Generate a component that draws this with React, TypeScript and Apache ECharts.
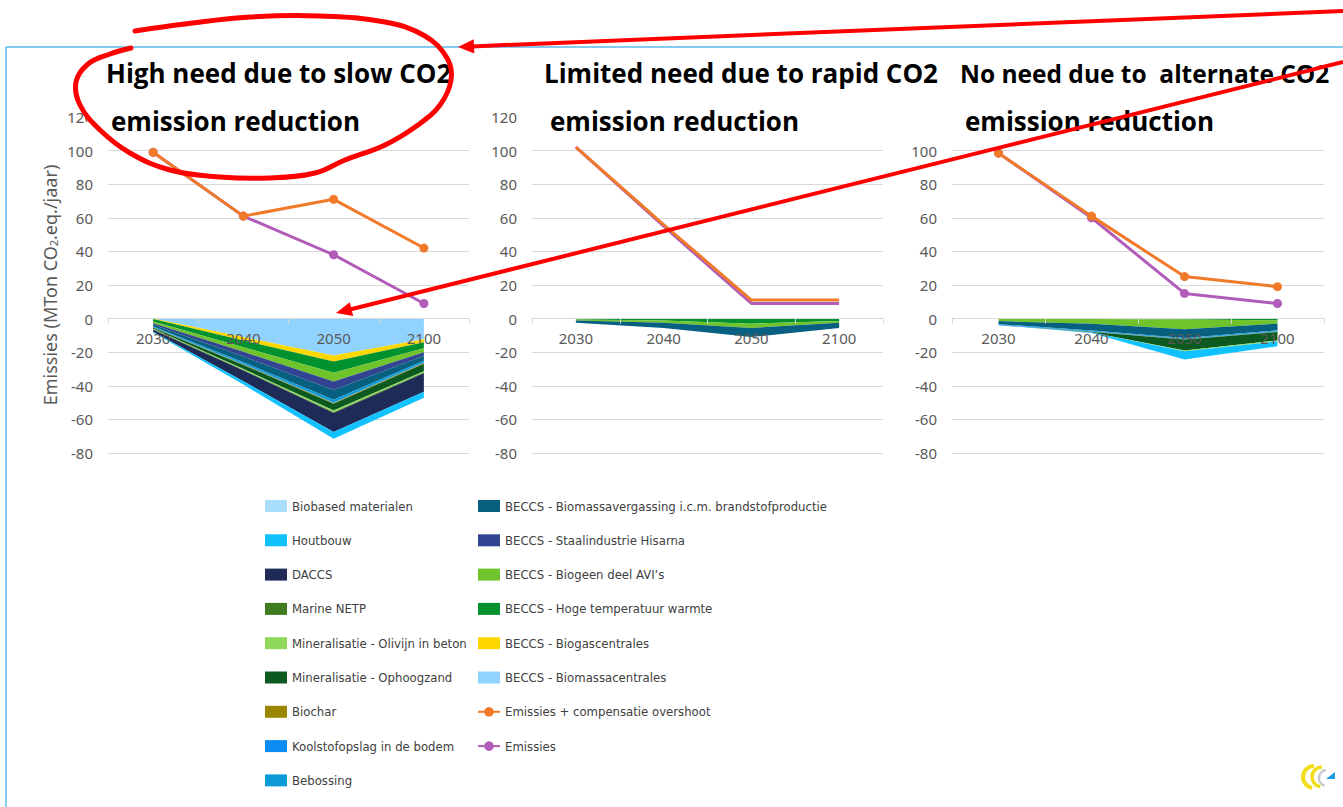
import { useEffect, useRef } from "react";
import * as echarts from "echarts";

// ---------- data ----------
const years = ["2030", "2040", "2050", "2100"];

const panelTitlesLine1 = ["High need due to slow CO2", "Limited need due to rapid CO2", "No need due to  alternate CO2"];
const panelTitlesLine2 = ["emission reduction", "emission reduction", "emission reduction"];

// area series in stacking order (nearest to zero first)
const areaNames = [
  "BECCS - Biomassacentrales",
  "BECCS - Biogascentrales",
  "BECCS - Hoge temperatuur warmte",
  "BECCS - Biogeen deel AVI’s",
  "BECCS - Staalindustrie Hisarna",
  "BECCS - Biomassavergassing i.c.m. brandstofproductie",
  "Bebossing",
  "Koolstofopslag in de bodem",
  "Biochar",
  "Mineralisatie - Ophoogzand",
  "Mineralisatie - Olivijn in beton",
  "Marine NETP",
  "DACCS",
  "Houtbouw",
  "Biobased materialen",
];
const areaColors = [
  "#8fd3fe", "#ffd700", "#00922e", "#6fc42c", "#334592", "#07607f", "#0d9bd7", "#0a8cf2",
  "#9a8500", "#0c5a1f", "#8fd95c", "#3f7b1f", "#1f2b57", "#12c2ff", "#a8ddfb",
];

// High need due to slow CO2 emission reduction
const highNeedAreas = [
  [0, -11, -22, -12.3],
  [-0.2, -2, -3.6, -1.8],
  [-1.5, -4, -6.7, -3.6],
  [-1, -2.8, -5.2, -2.4],
  [-1, -2.8, -5, -2],
  [-1, -3.4, -5.8, -3],
  [-0.4, -1, -1.6, -1],
  [-0.2, -0.3, -0.4, -0.4],
  [-0.2, -0.3, -0.4, -0.4],
  [-0.6, -2.4, -4, -4.4],
  [-0.3, -0.6, -1, -0.8],
  [-0.2, -0.3, -0.5, -0.4],
  [-1.2, -6.4, -11.3, -11],
  [-0.4, -2, -4, -3.6],
  [0, 0, 0, 0],
];
const highNeedOvershoot = [99, 61, 71, 42];
const highNeedEmissions = [99, 61, 38, 9];

// Limited need due to rapid CO2 emission reduction
const limitedNeedAreas = [
  [0, 0, 0, 0],
  [0, 0, 0, 0],
  [-0.6, -1.2, -3, -1.4],
  [-0.6, -1.2, -2.6, -1],
  [0, 0, 0, 0],
  [-1.2, -3.2, -5.4, -3.2],
  [0, 0, 0, 0],
  [0, 0, 0, 0],
  [0, 0, 0, 0],
  [0, 0, 0, 0],
  [0, 0, 0, 0],
  [0, 0, 0, 0],
  [0, 0, 0, 0],
  [0, 0, 0, 0],
  [0, 0, 0, 0],
];
const limitedNeedOvershoot = [102, 56, 11, 11];
const limitedNeedEmissions = [102, 55, 9, 9];

// No need due to alternate CO2 emission reduction
const noNeedAreas = [
  [0, 0, 0, 0],
  [0, 0, 0, 0],
  [-0.3, -0.3, -0.5, -1],
  [-1.2, -2.8, -5.8, -2],
  [0, 0, 0, 0],
  [-1.8, -4, -5.2, -4],
  [-0.4, -0.5, -0.5, -0.5],
  [-0.2, -0.3, -0.3, -0.3],
  [0, -0.1, -0.2, -0.2],
  [0, -0.2, -6.5, -5],
  [0, -0.1, -0.5, -0.5],
  [0, 0, 0, 0],
  [0, 0, 0, 0],
  [0, -0.2, -4.8, -3],
  [0, 0, 0, 0],
];
const noNeedOvershoot = [98.5, 61, 25, 19];
const noNeedEmissions = [98.5, 60, 15, 9];

const overshootName = "Emissies + compensatie overshoot";
const emissionsName = "Emissies";
const overshootColor = "#f07a2a";
const emissionsColor = "#b05cb8";

const legendLeft = [
  "Biobased materialen",
  "Houtbouw",
  "DACCS",
  "Marine NETP",
  "Mineralisatie - Olivijn in beton",
  "Mineralisatie - Ophoogzand",
  "Biochar",
  "Koolstofopslag in de bodem",
  "Bebossing",
];
const legendRight = [
  "BECCS - Biomassavergassing i.c.m. brandstofproductie",
  "BECCS - Staalindustrie Hisarna",
  "BECCS - Biogeen deel AVI’s",
  "BECCS - Hoge temperatuur warmte",
  "BECCS - Biogascentrales",
  "BECCS - Biomassacentrales",
  overshootName,
  emissionsName,
];

const yMin = -80;
const yMax = 120;
const yInterval = 20;

// ---------- layout ----------
const gridTop = 117;
const gridHeight = 336;
const grids = [
  { left: 108, width: 361 },
  { left: 532, width: 351 },
  { left: 952, width: 372 },
];
const titleX1 = [106, 544, 960];
const titleX2 = [111, 550, 965];
const titleSize1 = [26, 26, 24.5];

export default function App() {
  const ref = useRef<HTMLDivElement>(null);

  useEffect(() => {
    if (!ref.current) return;
    const chart = echarts.init(ref.current, undefined, { renderer: "svg" });

    const panelAreas = [highNeedAreas, limitedNeedAreas, noNeedAreas];
    const panelOvershoot = [highNeedOvershoot, limitedNeedOvershoot, noNeedOvershoot];
    const panelEmissions = [highNeedEmissions, limitedNeedEmissions, noNeedEmissions];

    const axisFont = "'Noto Sans', sans-serif";
    const gray = "#595959";
    const gridLine = "#d9d9d9";
    // distance of the zero line above the bottom of the plot
    const zeroOffset = (gridHeight * (0 - yMin)) / (yMax - yMin);

    const series: any[] = [];
    for (let p = 0; p < 3; p++) {
      areaNames.forEach((name, i) => {
        series.push({
          type: "line",
          name,
          xAxisIndex: p,
          yAxisIndex: p,
          stack: "stack" + p,
          data: panelAreas[p][i],
          symbol: "none",
          showSymbol: false,
          lineStyle: { width: 0 },
          areaStyle: { color: areaColors[i], opacity: 1 },
          itemStyle: { color: areaColors[i] },
          emphasis: { disabled: true },
          z: 2,
        });
      });
      series.push({
        type: "line",
        name: emissionsName,
        xAxisIndex: p,
        yAxisIndex: p,
        data: panelEmissions[p],
        symbol: "circle",
        symbolSize: 9,
        showSymbol: p !== 1,
        lineStyle: { width: 3, color: emissionsColor },
        itemStyle: { color: emissionsColor },
        emphasis: { disabled: true },
        z: 6,
      });
      series.push({
        type: "line",
        name: overshootName,
        xAxisIndex: p,
        yAxisIndex: p,
        data: panelOvershoot[p],
        symbol: "circle",
        symbolSize: 9,
        showSymbol: p !== 1,
        lineStyle: { width: 3, color: overshootColor },
        itemStyle: { color: overshootColor },
        emphasis: { disabled: true },
        z: 7,
      });
    }

    const legendItem = (name: string) =>
      name === overshootName || name === emissionsName ? { name } : { name, icon: "rect" };

    const legendCommon = {
      orient: "vertical",
      top: 494,
      padding: 5,
      itemWidth: 22,
      itemHeight: 12,
      itemGap: 20.3,
      selectedMode: false,
      textStyle: {
        fontFamily: "'DejaVu Sans Condensed', sans-serif",
        fontSize: 13,
        color: "#404040",
        lineHeight: 14,
      },
      itemStyle: { borderWidth: 0 },
    };

    const red = "#ff0000";
    const graphics: any[] = [
      // blue frame
      { type: "line", z: 100, shape: { x1: 6, y1: 47, x2: 1343, y2: 47 }, style: { stroke: "#5cb9e8", lineWidth: 1.5 } },
      { type: "line", z: 100, shape: { x1: 6, y1: 47, x2: 6, y2: 807 }, style: { stroke: "#5cb9e8", lineWidth: 1.5 } },
      // cover for partially hidden 120 label in first panel
      { type: "rect", z: 100, shape: { x: 87, y: 106, width: 20, height: 24 }, style: { fill: "#ffffff" } },
    ];
    for (let p = 0; p < 3; p++) {
      graphics.push({
        type: "text",
        z: 101,
        x: titleX1[p],
        y: 73,
        style: {
          text: panelTitlesLine1[p],
          font: `bold ${titleSize1[p]}px 'Open Sans', sans-serif`,
          fill: "#000000",
          verticalAlign: "middle",
        },
      });
      graphics.push({
        type: "text",
        z: 101,
        x: titleX2[p],
        y: 121,
        style: {
          text: panelTitlesLine2[p],
          font: "bold 26px 'Open Sans', sans-serif",
          fill: "#000000",
          verticalAlign: "middle",
        },
      });
    }
    // red hand-drawn annotations
    graphics.push({
      type: "polyline",
      z: 102,
      shape: {
        points: [
          [135, 31], [185, 24], [250, 17], [320, 16], [385, 22], [425, 36], [447, 58], [451, 80],
          [440, 105], [418, 125], [385, 145], [345, 160], [315, 173], [270, 178], [220, 177],
          [170, 170], [130, 153], [100, 130], [80, 105], [76, 82], [88, 64], [110, 54], [131, 48],
        ],
        smooth: 0.4,
      },
      style: { stroke: red, lineWidth: 5, fill: "none", lineCap: "round", lineJoin: "round" },
    });
    graphics.push({
      type: "line",
      z: 102,
      shape: { x1: 1343, y1: 11, x2: 472, y2: 46.4 },
      style: { stroke: red, lineWidth: 4 },
    });
    graphics.push({
      type: "polygon",
      z: 102,
      shape: { points: [[458, 47], [474.3, 53.5], [473.7, 39.3]] },
      style: { fill: red },
    });
    graphics.push({
      type: "line",
      z: 102,
      shape: { x1: 1343, y1: 62, x2: 350, y2: 309.5 },
      style: { stroke: red, lineWidth: 4 },
    });
    graphics.push({
      type: "polygon",
      z: 102,
      shape: { points: [[336, 313], [353.2, 316], [349.8, 302.2]] },
      style: { fill: red },
    });
    // logo
    graphics.push(
      { type: "arc", z: 100, shape: { cx: 1314, cy: 777, r: 11, startAngle: Math.PI * 0.55, endAngle: Math.PI * 1.5, clockwise: true }, style: { stroke: "#f3dc1c", lineWidth: 4, fill: "none" } },
      { type: "arc", z: 100, shape: { cx: 1322, cy: 777, r: 10, startAngle: Math.PI * 0.55, endAngle: Math.PI * 1.5, clockwise: true }, style: { stroke: "#f3dc1c", lineWidth: 3.5, fill: "none" } },
      { type: "arc", z: 100, shape: { cx: 1327, cy: 778, r: 8, startAngle: Math.PI * 0.6, endAngle: Math.PI * 1.45, clockwise: true }, style: { stroke: "#c8c8c8", lineWidth: 2.5, fill: "none" } },
      { type: "polygon", z: 100, shape: { points: [[1326, 779], [1335, 772], [1335, 779]] }, style: { fill: "#1e9be0" } }
    );

    const option: any = {
      animation: false,
      backgroundColor: "#ffffff",
      grid: grids.map((g) => ({ left: g.left, width: g.width, top: gridTop, height: gridHeight })),
      xAxis: grids.map((_, p) => ({
        type: "category",
        gridIndex: p,
        data: years,
        boundaryGap: true,
        position: "bottom",
        offset: -zeroOffset,
        z: 5,
        axisLine: { onZero: false, lineStyle: { color: gridLine, width: 1 } },
        axisTick: { show: true, length: 5, lineStyle: { color: gridLine } },
        axisLabel: { color: gray, fontSize: 15, fontFamily: axisFont, margin: 12 },
        splitLine: { show: false },
      })),
      yAxis: grids.map((_, p) => ({
        type: "value",
        gridIndex: p,
        min: yMin,
        max: yMax,
        interval: yInterval,
        axisLine: { show: false },
        axisTick: { show: false },
        axisLabel: { color: gray, fontSize: 15, fontFamily: axisFont, margin: 15, showMaxLabel: p !== 2 },
        splitLine: { lineStyle: { color: gridLine, width: 1 }, showMaxLine: false },
        name: p === 0 ? "Emissies (MTon CO{sub|2}.eq./jaar)" : "",
        nameLocation: "middle",
        nameGap: 49,
        nameTextStyle: {
          color: gray,
          fontSize: 18,
          fontFamily: axisFont,
          rich: { sub: { fontSize: 11, color: gray, fontFamily: axisFont, padding: [8, 0, 0, 0] } },
        },
      })),
      legend: [
        { ...legendCommon, left: 260, data: legendLeft.map(legendItem) },
        { ...legendCommon, left: 472, data: legendRight.map(legendItem) },
      ],
      series,
      graphic: graphics,
    };

    chart.setOption(option);
    return () => chart.dispose();
  }, []);

  return (
    <div
      ref={ref}
      style={{ position: "absolute", left: 0, top: 0, width: 1343, height: 807, background: "#fff" }}
    />
  );
}
